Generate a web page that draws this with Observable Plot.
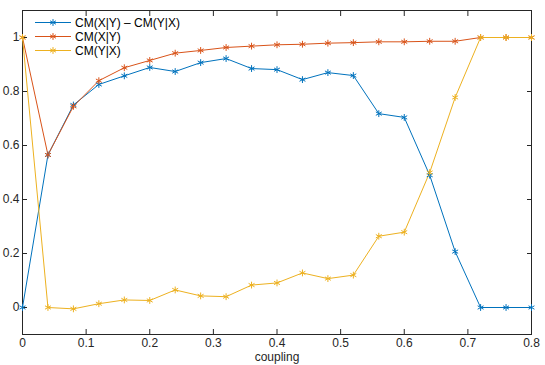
<!DOCTYPE html>
<html>
<head>
<meta charset="utf-8">
<script src="https://cdn.jsdelivr.net/npm/d3@7"></script>
<script src="https://cdn.jsdelivr.net/npm/@observablehq/plot@0.6"></script>
<style>
html, body { margin: 0; padding: 0; background: #fff; }
#wrap { position: relative; width: 545px; height: 365px; }
#legend { position: absolute; left: 0; top: 0; }
</style>
</head>
<body>
<div id="wrap"></div>
<script>
const coupling = [0,0.04,0.08,0.12,0.16,0.2,0.24,0.28,0.32,0.36,0.4,0.44,0.48,0.52,0.56,0.6,0.64,0.68,0.72,0.76,0.8];
const diff = [0,0.565,0.75,0.826,0.858,0.889,0.874,0.907,0.922,0.885,0.881,0.844,0.87,0.859,0.718,0.704,0.49,0.207,0,0,0];
const cmXY = [1,0.565,0.745,0.84,0.888,0.915,0.942,0.952,0.963,0.968,0.973,0.975,0.979,0.981,0.984,0.984,0.986,0.986,1,1,1];
const cmYX = [1,0,-0.005,0.014,0.028,0.026,0.065,0.043,0.04,0.083,0.091,0.128,0.107,0.12,0.264,0.279,0.5,0.778,1,1,1];
const seriesNames = ["CM(X|Y) \u2013 CM(Y|X)", "CM(X|Y)", "CM(Y|X)"];
const colors = ["#0072BD", "#D95319", "#EDB120"];
const xTicks = [0,0.1,0.2,0.3,0.4,0.5,0.6,0.7,0.8];
const yTicks = [0,0.2,0.4,0.6,0.8,1];

const seriesValues = [diff, cmXY, cmYX];
const data = [];
seriesValues.forEach((vals, s) => vals.forEach((v, i) => data.push({x: coupling[i], y: v, s: seriesNames[s]})));

const fmt = d => String(+d.toFixed(1));
const axisColor = "#262626";
const font = "'Liberation Sans', Arial, sans-serif";

const plot = Plot.plot({
  width: 545, height: 365,
  marginLeft: 22, marginRight: 14, marginTop: 10, marginBottom: 31,
  style: {fontFamily: font, fontSize: "12px", color: axisColor, background: "#fff"},
  x: {domain: [0, 0.8], ticks: xTicks},
  y: {domain: [-0.1, 1.1], ticks: yTicks},
  color: {domain: seriesNames, range: colors},
  marks: [
    Plot.frame({stroke: axisColor, strokeWidth: 1}),
    Plot.axisX({anchor: "bottom", ticks: xTicks, tickSize: -5, tickPadding: 9, tickFormat: fmt, stroke: axisColor,
      label: "coupling", labelAnchor: "center", labelArrow: "none", labelOffset: 26}),
    Plot.axisX({anchor: "top", ticks: xTicks, tickSize: -5, tickFormat: () => "", stroke: axisColor, label: null}),
    Plot.axisY({anchor: "left", ticks: yTicks, tickSize: -5, tickPadding: 8, tickFormat: fmt, stroke: axisColor, label: null}),
    Plot.axisY({anchor: "right", ticks: yTicks, tickSize: -5, tickFormat: () => "", stroke: axisColor, label: null}),
    Plot.line(data, {x: "x", y: "y", z: "s", stroke: "s", strokeWidth: 1}),
    Plot.dot(data, {x: "x", y: "y", stroke: "s", symbol: "asterisk", r: 3.2, strokeWidth: 1})
  ]
});
document.getElementById("wrap").appendChild(plot);

// legend overlay
const lg = d3.select("#wrap").append("svg").attr("id", "legend").attr("width", 545).attr("height", 365)
  .style("font-family", font).style("font-size", "12px");
seriesNames.forEach((name, i) => {
  const yy = 22.5 + i * 14;
  const g = lg.append("g");
  g.append("line").attr("x1", 35).attr("x2", 71).attr("y1", yy).attr("y2", yy).attr("stroke", colors[i]).attr("stroke-width", 1);
  const star = d3.symbol(d3.symbolAsterisk, 3.2 * 3.2 * Math.PI)();
  g.append("path").attr("d", star).attr("transform", `translate(53,${yy})`).attr("stroke", colors[i]).attr("fill", "none");
  g.append("text").attr("x", 75).attr("y", yy).attr("dy", "0.35em").attr("fill", "#000").text(name);
});
</script>
</body>
</html>
